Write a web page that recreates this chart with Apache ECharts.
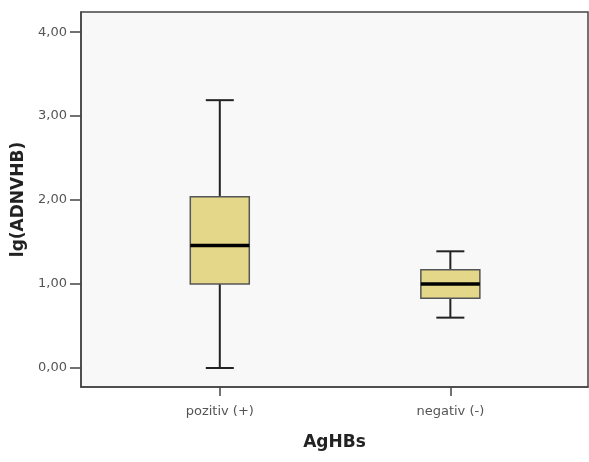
<!DOCTYPE html>
<html>
<head>
    <meta http-equiv="content-type" content="text/html;charset=utf-8">
    <script src="https://cdn.jsdelivr.net/npm/echarts@6/dist/echarts.min.js"></script>
    <style>
        html, body { margin: 0; padding: 0; background: #fff; }
        #chart { width: 589px; height: 462px; }
    </style>
</head>
<body>
<div id="chart"></div>
<script type="text/javascript">
    // groups on the x axis (positions 1 and 2)
    var categories = ['pozitiv (+)', 'negativ (-)'];
    // box statistics per group: [min, Q1, median, Q3, max]
    var whiskerLow = [0.00, 0.60];
    var quartile1 = [1.00, 0.83];
    var medians = [1.46, 1.00];
    var quartile3 = [2.04, 1.17];
    var whiskerHigh = [3.19, 1.39];
    // y tick values
    var yTicks = [0, 1, 2, 3, 4];

    var boxData = [];
    for (var i = 0; i < categories.length; i++) {
        boxData.push([i + 1, whiskerLow[i], quartile1[i], medians[i], quartile3[i], whiskerHigh[i]]);
    }

    var chart = echarts.init(document.getElementById('chart'));

    // draw one box with half-width whisker caps and a heavy median line
    function renderBox(params, api) {
        var x = api.value(0);
        var pLow = api.coord([x, api.value(1)]);
        var pQ1 = api.coord([x, api.value(2)]);
        var pMed = api.coord([x, api.value(3)]);
        var pQ3 = api.coord([x, api.value(4)]);
        var pHigh = api.coord([x, api.value(5)]);
        var half = 29.5;
        var cap = 14;
        var lineStyle = {stroke: '#222', lineWidth: 2};
        return {
            type: 'group',
            children: [
                {type: 'line', shape: {x1: pLow[0], y1: pLow[1], x2: pQ1[0], y2: pQ1[1]}, style: lineStyle},
                {type: 'line', shape: {x1: pQ3[0], y1: pQ3[1], x2: pHigh[0], y2: pHigh[1]}, style: lineStyle},
                {type: 'line', shape: {x1: pLow[0] - cap, y1: pLow[1], x2: pLow[0] + cap, y2: pLow[1]}, style: lineStyle},
                {type: 'line', shape: {x1: pHigh[0] - cap, y1: pHigh[1], x2: pHigh[0] + cap, y2: pHigh[1]}, style: lineStyle},
                {type: 'rect', shape: {x: pQ3[0] - half, y: pQ3[1], width: half * 2, height: pQ1[1] - pQ3[1]},
                    style: {fill: '#e4d78a', stroke: '#555', lineWidth: 1.5}},
                {type: 'line', shape: {x1: pMed[0] - half, y1: pMed[1], x2: pMed[0] + half, y2: pMed[1]},
                    style: {stroke: '#000', lineWidth: 3.5}}
            ]
        };
    }

    var option = {
        animation: false,
        backgroundColor: '#fff',
        textStyle: {fontFamily: 'DejaVu Sans'},
        grid: {
            left: 81,
            right: 1,
            top: 12,
            bottom: 75,
            show: true,
            backgroundColor: '#f8f8f8',
            borderColor: '#444',
            borderWidth: 1.5
        },
        xAxis: {
            type: 'value',
            min: 0.398,
            max: 2.597,
            name: 'AgHBs',
            nameLocation: 'middle',
            nameGap: 47,
            nameTextStyle: {fontSize: 17, fontWeight: 'bold', color: '#222', fontFamily: 'DejaVu Sans'},
            axisLine: {show: true, onZero: false, lineStyle: {color: '#444', width: 1.5}},
            axisTick: {show: true, length: 9, customValues: [1, 2], lineStyle: {color: '#444', width: 1.5}},
            axisLabel: {
                customValues: [1, 2],
                margin: 18,
                fontSize: 13,
                color: '#555',
                formatter: function (v) { return categories[Math.round(v) - 1] || ''; }
            },
            splitLine: {show: false}
        },
        yAxis: {
            type: 'value',
            min: -0.226,
            max: 4.24,
            name: 'lg(ADNVHB)',
            nameLocation: 'middle',
            nameGap: 54,
            nameTextStyle: {fontSize: 17, fontWeight: 'bold', color: '#222', fontFamily: 'DejaVu Sans'},
            axisLine: {show: true, onZero: false, lineStyle: {color: '#444', width: 1.5}},
            axisTick: {show: true, length: 11, customValues: yTicks, lineStyle: {color: '#444', width: 1.5}},
            axisLabel: {
                customValues: yTicks,
                margin: 14,
                fontSize: 13,
                color: '#555',
                formatter: function (v) { return v.toFixed(2).replace('.', ','); }
            },
            splitLine: {show: false}
        },
        series: [{
            type: 'custom',
            renderItem: renderBox,
            encode: {x: 0, y: [1, 2, 3, 4, 5]},
            data: boxData
        }]
    };
    chart.setOption(option);
</script>
</body>
</html>
